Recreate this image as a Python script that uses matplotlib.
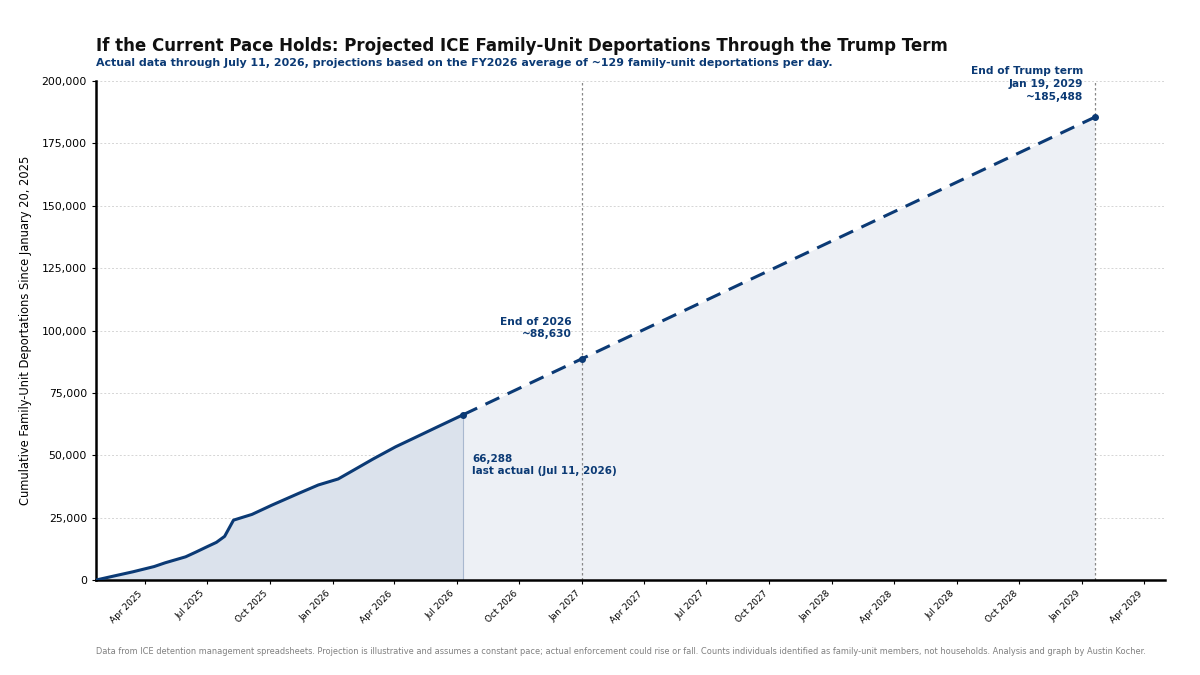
import matplotlib
matplotlib.use("Agg")
import matplotlib.pyplot as plt
import matplotlib.dates as mdates
import pandas as pd
from matplotlib.ticker import FuncFormatter, MultipleLocator

# ---- data ----
actual_dates = ["2025-01-20", "2025-02-15", "2025-03-15", "2025-04-15", "2025-05-01",
                "2025-05-31", "2025-06-15", "2025-07-01", "2025-07-15", "2025-07-27",
                "2025-08-09", "2025-09-05", "2025-10-04", "2025-11-12", "2025-12-11",
                "2026-01-09", "2026-02-01", "2026-03-01", "2026-04-03", "2026-05-01",
                "2026-06-01", "2026-07-11"]
actual_values = [0, 1600, 3300, 5400, 6900,
                 9300, 11200, 13300, 15100, 17500,
                 24000, 26300, 30000, 34700, 38100,
                 40500, 44100, 48500, 53400, 57040,
                 61100, 66288]

proj_dates = ["2026-07-11", "2026-12-31", "2029-01-19"]
proj_values = [66288, 88630, 185488]

title = "If the Current Pace Holds: Projected ICE Family-Unit Deportations Through the Trump Term"
subtitle = "Actual data through July 11, 2026, projections based on the FY2026 average of ~129 family-unit deportations per day."
ylabel = "Cumulative Family-Unit Deportations Since January 20, 2025"
footer = ("Data from ICE detention management spreadsheets. Projection is illustrative and assumes a constant pace; "
          "actual enforcement could rise or fall. Counts individuals identified as family-unit members, not households. "
          "Analysis and graph by Austin Kocher.")

ad = pd.to_datetime(actual_dates)
pdt = pd.to_datetime(proj_dates)

navy = "#0b3a75"

fig = plt.figure(figsize=(12, 6.75), dpi=100)
ax = fig.add_axes([0.08, 0.1407, 0.891, 0.7393])

# fills
ax.fill_between(ad, 0, actual_values, color="#dbe2ec", zorder=1, linewidth=0)
ax.fill_between(pdt, 0, proj_values, color="#edf0f5", zorder=1, linewidth=0)
ax.plot([ad[-1], ad[-1]], [0, actual_values[-1]], color="#a9b8cf", lw=0.8, zorder=2)

# lines
ax.plot(ad, actual_values, color=navy, lw=2.2, zorder=3, solid_capstyle="round")
ax.plot(pdt, proj_values, color=navy, lw=2.2, ls=(0, (5, 3)), zorder=3)
ax.scatter(pdt, proj_values, color=navy, s=16, zorder=4)

# vertical reference lines
for d in pdt[1:]:
    ax.axvline(d, color="#888888", lw=0.9, ls=(0, (2, 2)), zorder=2)

# annotations
ax.annotate("End of 2026\n~88,630", xy=(pdt[1], proj_values[1]), xytext=(-7.5, 14),
            textcoords="offset points", ha="right", va="bottom", fontsize=7.7,
            fontweight="bold", color=navy, linespacing=1.35)
ax.annotate("66,288\nlast actual (Jul 11, 2026)", xy=(ad[-1], actual_values[-1]), xytext=(6.5, -28),
            textcoords="offset points", ha="left", va="top", fontsize=7.5,
            fontweight="bold", color=navy, linespacing=1.35)
ax.annotate("End of Trump term\nJan 19, 2029\n~185,488", xy=(pdt[2], proj_values[2]), xytext=(-8.5, 11),
            textcoords="offset points", ha="right", va="bottom", fontsize=7.7,
            fontweight="bold", color=navy, linespacing=1.4)

# axes styling
ax.set_xlim(pd.Timestamp("2025-01-20"), pd.Timestamp("2029-05-02"))
ax.set_ylim(0, 200000)
ax.yaxis.set_major_locator(MultipleLocator(25000))
ax.yaxis.set_major_formatter(FuncFormatter(lambda v, p: f"{int(v):,}"))
ax.xaxis.set_major_locator(mdates.MonthLocator(bymonth=[1, 4, 7, 10]))
ax.xaxis.set_major_formatter(mdates.DateFormatter("%b %Y"))
plt.setp(ax.get_xticklabels(), rotation=45, ha="right", fontsize=6.5)
ax.tick_params(axis="y", labelsize=7.8, length=3)
ax.tick_params(axis="x", length=3)
ax.grid(axis="y", color="#d5d5d5", ls=(0, (2, 2)), lw=0.7)
ax.set_axisbelow(True)
for s in ["top", "right"]:
    ax.spines[s].set_visible(False)
ax.spines["left"].set_linewidth(1.8)
ax.spines["bottom"].set_linewidth(1.8)
ax.set_ylabel(ylabel, fontsize=8.3, labelpad=7)

fig.text(0.08, 0.919, title, fontsize=12, fontweight="bold", color="#111111", va="bottom")
fig.text(0.08, 0.899, subtitle, fontsize=7.9, fontweight="bold", color=navy, va="bottom")
fig.text(0.08, 0.028, footer, fontsize=5.98, color="#808080", va="bottom")

fig.savefig("out.png", dpi=100)
